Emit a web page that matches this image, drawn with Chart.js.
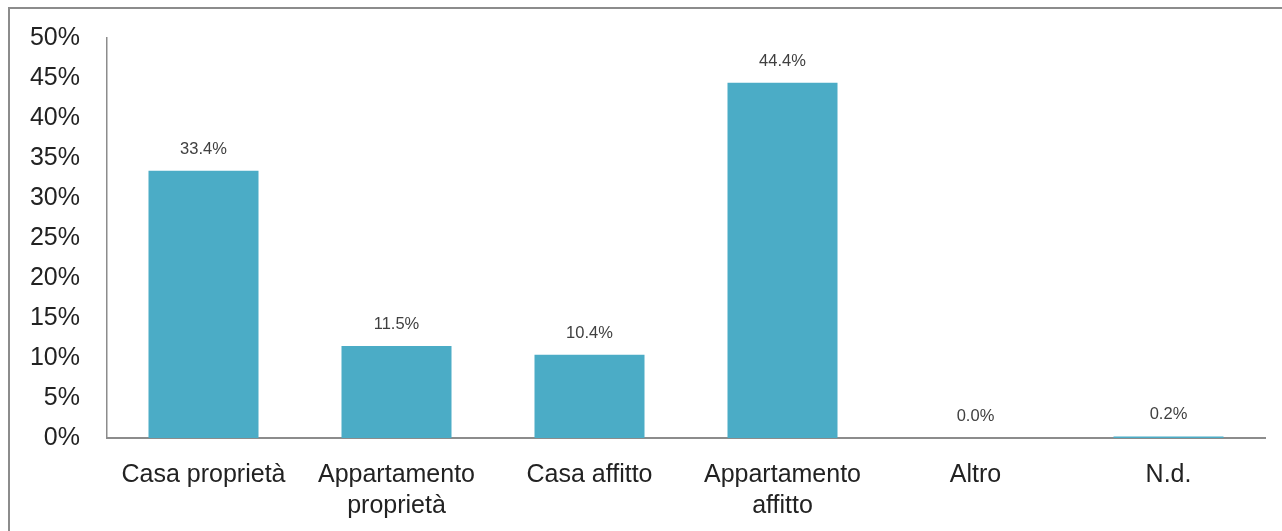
<!DOCTYPE html>
<html>
<head>
<meta charset="utf-8">
<script src="https://cdn.jsdelivr.net/npm/chart.js@4.4.0/dist/chart.umd.min.js"></script>
<style>
  html, body { margin: 0; padding: 0; background: #fff; overflow: hidden; }
  #frame {
    position: absolute; left: 8px; top: 7px;
    width: 1400px; height: 600px;
    border: 2px solid #8c8c8c;
  }
  #myChart { position: absolute; left: 0; top: 0; }
</style>
</head>
<body>
<div id="frame"></div>
<canvas id="myChart" width="1282" height="531"></canvas>
<script>
// categories and shares (%)
var categories = ['Casa proprietà', ['Appartamento', 'proprietà'], 'Casa affitto', ['Appartamento', 'affitto'], 'Altro', 'N.d.'];
var shares = [33.4, 11.5, 10.4, 44.4, 0.0, 0.2];
var yTicks = [0, 5, 10, 15, 20, 25, 30, 35, 40, 45, 50];

var fontFamily = '"Liberation Sans", Arial, sans-serif';

// value labels above each bar
var barLabels = {
  id: 'barLabels',
  afterDatasetsDraw: function (chart) {
    var ctx = chart.ctx;
    var meta = chart.getDatasetMeta(0);
    ctx.save();
    ctx.font = '16.5px ' + fontFamily;
    ctx.fillStyle = '#404040';
    ctx.textAlign = 'center';
    ctx.textBaseline = 'alphabetic';
    meta.data.forEach(function (bar, i) {
      ctx.fillText(shares[i].toFixed(1) + '%', bar.x, bar.y - 17);
    });
    ctx.restore();
  }
};

var ctx = document.getElementById('myChart').getContext('2d');
var myChart = new Chart(ctx, {
  type: 'bar',
  data: {
    labels: categories,
    datasets: [{
      data: shares,
      backgroundColor: '#4bacc6',
      borderWidth: 0,
      categoryPercentage: 1.0,
      barPercentage: 0.57
    }]
  },
  options: {
    responsive: false,
    animation: false,
    layout: {
      padding: { top: 38, right: 17, bottom: 0, left: 0 }
    },
    plugins: {
      legend: { display: false },
      tooltip: { enabled: false }
    },
    scales: {
      x: {
        grid: { display: false, drawTicks: false },
        border: { color: '#8c8c8c', width: 2 },
        ticks: {
          color: '#222222',
          font: { family: fontFamily, size: 25, lineHeight: 1.24 },
          padding: 22,
          maxRotation: 0,
          autoSkip: false
        },
        afterFit: function (scale) {
          scale.height = 93;
          scale.paddingLeft = 0;
          scale.paddingRight = 0;
        }
      },
      y: {
        min: 0,
        max: 50,
        afterBuildTicks: function (scale) {
          scale.ticks = yTicks.map(function (v) { return { value: v }; });
        },
        grid: { display: false, drawTicks: false },
        border: { color: '#8c8c8c', width: 1.5 },
        ticks: {
          color: '#222222',
          font: { family: fontFamily, size: 25 },
          padding: 27,
          callback: function (v) { return v + '%'; }
        },
        afterFit: function (scale) {
          scale.width = 107;
          scale.paddingTop = 0;
          scale.paddingBottom = 0;
        }
      }
    }
  },
  plugins: [barLabels]
});
</script>
</body>
</html>
